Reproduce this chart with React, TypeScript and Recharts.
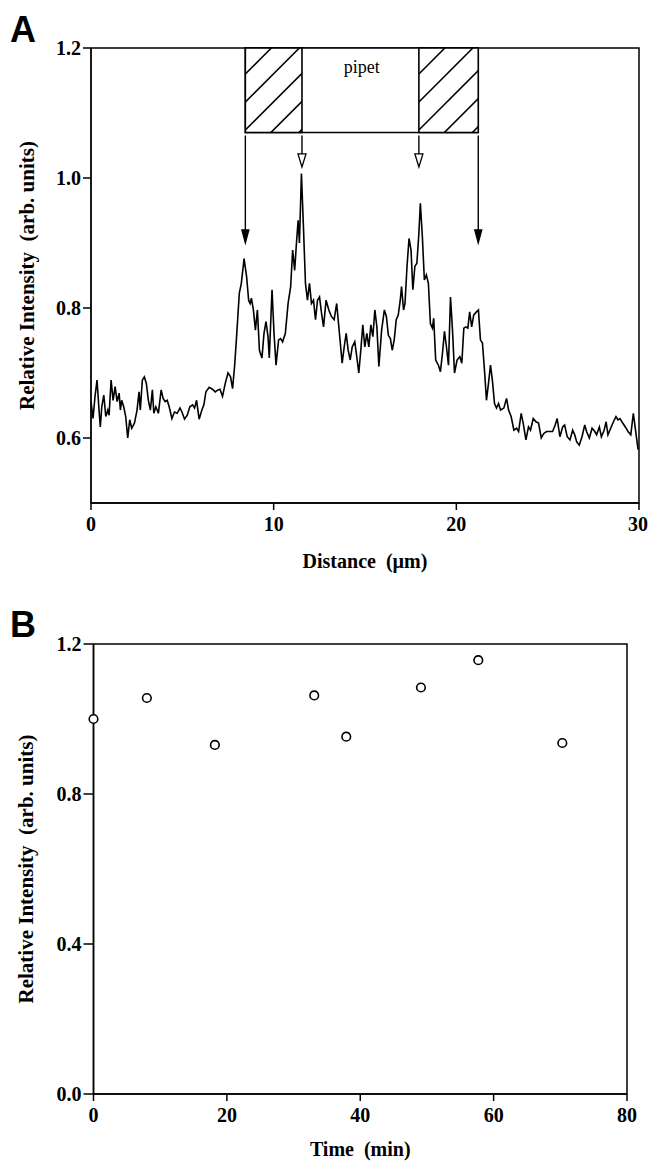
import {
  LineChart,
  Line,
  XAxis,
  YAxis,
  ReferenceArea,
  ReferenceLine,
  ScatterChart,
  Scatter
} from "recharts";

// panel A: line profile along the pipet
const distance = [
  0.00, 0.11, 0.22, 0.33, 0.44, 0.51, 0.59, 0.70, 0.81, 0.92, 0.99, 1.10, 1.21, 1.32, 1.43, 1.54, 1.61, 1.68, 1.79, 1.90,
  2.01, 2.12, 2.23, 2.38, 2.52, 2.63, 2.70, 2.81, 2.92, 3.03, 3.14, 3.25, 3.36, 3.44, 3.55, 3.69, 3.84, 3.95, 4.06, 4.17,
  4.28, 4.43, 4.57, 4.72, 4.87, 4.98, 5.12, 5.27, 5.41, 5.56, 5.67, 5.78, 5.92, 6.07, 6.18, 6.29, 6.47, 6.65, 6.80, 6.95,
  7.06, 7.20, 7.35, 7.50, 7.64, 7.75, 7.86, 7.97, 8.12, 8.23, 8.38, 8.52, 8.63, 8.71, 8.78, 8.89, 9.00, 9.11, 9.22, 9.36,
  9.47, 9.58, 9.69, 9.76, 9.91, 10.02, 10.13, 10.27, 10.38, 10.49, 10.64, 10.79, 10.93, 11.04, 11.15, 11.26, 11.34, 11.41, 11.52, 11.63,
  11.74, 11.85, 11.96, 12.07, 12.18, 12.29, 12.40, 12.51, 12.62, 12.73, 12.87, 13.02, 13.16, 13.31, 13.45, 13.60, 13.75, 13.86, 13.97, 14.08,
  14.19, 14.30, 14.44, 14.55, 14.66, 14.77, 14.88, 14.99, 15.10, 15.21, 15.32, 15.43, 15.54, 15.65, 15.76, 15.91, 16.06, 16.17, 16.28, 16.39,
  16.49, 16.60, 16.71, 16.82, 16.93, 17.00, 17.11, 17.19, 17.30, 17.41, 17.52, 17.62, 17.73, 17.84, 17.95, 18.03, 18.14, 18.25, 18.36, 18.47,
  18.58, 18.69, 18.76, 18.87, 19.02, 19.13, 19.24, 19.35, 19.46, 19.57, 19.68, 19.79, 19.90, 20.04, 20.19, 20.30, 20.41, 20.52, 20.63, 20.73,
  20.84, 20.95, 21.10, 21.21, 21.32, 21.43, 21.54, 21.65, 21.76, 21.87, 21.98, 22.09, 22.20, 22.31, 22.42, 22.60, 22.75, 22.86, 23.00, 23.15,
  23.30, 23.41, 23.55, 23.66, 23.81, 23.95, 24.06, 24.21, 24.36, 24.50, 24.65, 24.79, 24.94, 25.12, 25.27, 25.41, 25.52, 25.67, 25.82, 25.93,
  26.07, 26.22, 26.37, 26.48, 26.59, 26.73, 26.88, 27.03, 27.13, 27.28, 27.43, 27.58, 27.68, 27.83, 27.94, 28.09, 28.20, 28.30, 28.45, 28.60,
  28.74, 28.85, 28.96, 29.11, 29.25, 29.40, 29.55, 29.69, 29.81, 29.88, 29.95
];

const intensity = [
  0.656, 0.630, 0.664, 0.689, 0.643, 0.617, 0.648, 0.666, 0.633, 0.643, 0.635, 0.689, 0.658, 0.679, 0.656, 0.669, 0.643, 0.658, 0.648, 0.633,
  0.600, 0.628, 0.615, 0.623, 0.643, 0.671, 0.643, 0.689, 0.694, 0.684, 0.658, 0.643, 0.674, 0.638, 0.648, 0.638, 0.674, 0.661, 0.656, 0.658,
  0.648, 0.630, 0.640, 0.638, 0.646, 0.640, 0.629, 0.635, 0.648, 0.651, 0.646, 0.658, 0.629, 0.643, 0.651, 0.671, 0.678, 0.675, 0.671, 0.674,
  0.675, 0.664, 0.684, 0.700, 0.694, 0.676, 0.710, 0.756, 0.823, 0.838, 0.876, 0.848, 0.812, 0.807, 0.815, 0.797, 0.766, 0.797, 0.735, 0.723,
  0.761, 0.779, 0.756, 0.723, 0.828, 0.761, 0.712, 0.751, 0.753, 0.748, 0.761, 0.807, 0.833, 0.889, 0.858, 0.905, 0.935, 0.900, 1.007, 0.925,
  0.838, 0.812, 0.838, 0.807, 0.812, 0.782, 0.812, 0.817, 0.792, 0.771, 0.812, 0.797, 0.787, 0.782, 0.807, 0.761, 0.715, 0.740, 0.761, 0.735,
  0.720, 0.740, 0.748, 0.725, 0.700, 0.735, 0.774, 0.740, 0.761, 0.740, 0.774, 0.756, 0.797, 0.771, 0.710, 0.766, 0.797, 0.787, 0.758, 0.753,
  0.735, 0.751, 0.782, 0.789, 0.812, 0.833, 0.797, 0.807, 0.864, 0.907, 0.889, 0.828, 0.864, 0.869, 0.915, 0.961, 0.910, 0.843, 0.851, 0.838,
  0.776, 0.769, 0.784, 0.720, 0.712, 0.702, 0.730, 0.764, 0.740, 0.712, 0.817, 0.766, 0.700, 0.720, 0.725, 0.715, 0.769, 0.771, 0.769, 0.794,
  0.771, 0.789, 0.794, 0.797, 0.751, 0.746, 0.705, 0.658, 0.684, 0.712, 0.687, 0.653, 0.646, 0.653, 0.643, 0.646, 0.661, 0.643, 0.633, 0.612,
  0.615, 0.610, 0.638, 0.623, 0.597, 0.617, 0.612, 0.630, 0.625, 0.623, 0.600, 0.607, 0.610, 0.610, 0.610, 0.620, 0.630, 0.602, 0.617, 0.620,
  0.602, 0.597, 0.612, 0.605, 0.594, 0.589, 0.602, 0.620, 0.610, 0.600, 0.615, 0.610, 0.605, 0.617, 0.602, 0.612, 0.625, 0.605, 0.615, 0.625,
  0.633, 0.628, 0.630, 0.623, 0.617, 0.610, 0.605, 0.638, 0.612, 0.597, 0.582
];

const distTicks = [0, 10, 20, 30];
const intensTicksA = [0.6, 0.8, 1.0, 1.2];

// pipet outline (µm) and arrow tips (intensity units)
const pipetWall = [8.45, 11.55, 17.95, 21.2];
const pipetBottom = 1.07;
const arrowTips = [0.9, 1.017, 1.017, 0.9];
const arrowOpen = [false, true, true, false];

// panel B: intensity over time
const timeMin = [0, 8, 18.2, 33.1, 37.9, 49.1, 57.7, 70.3];
const timeIntensity = [1.0, 1.056, 0.931, 1.063, 0.953, 1.084, 1.157, 0.936];
const timeTicks = [0, 20, 40, 60, 80];
const intensTicksB = [0, 0.4, 0.8, 1.2];

const serif = "'Liberation Serif', 'Times New Roman', serif";
const tickStyle = { fill: "#000", fontSize: 20, fontWeight: "bold", fontFamily: serif };
const titleStyle = { fill: "#000", fontSize: 20, fontWeight: "bold", fontFamily: serif, textAnchor: "middle" as const };

const profile = distance.map((x, i) => ({ x, y: intensity[i] }));
const timeline = timeMin.map((t, i) => ({ t, v: timeIntensity[i] }));

function Arrow(props: any) {
  const { x1, y1, x2, y2, open } = props;
  const head = 13;
  const half = open ? 4 : 3.5;
  return (
    <g>
      <line x1={x1} y1={y1 + 3} x2={x2} y2={y2 - head + 1} stroke="#000" strokeWidth={1.4} />
      <polygon
        points={`${x2 - half},${y2 - head} ${x2 + half},${y2 - head} ${x2},${y2}`}
        fill={open ? "#fff" : "#000"}
        stroke="#000"
        strokeWidth={1.3}
      />
    </g>
  );
}

function Hatched(props: any) {
  const { x, y, width, height } = props;
  const id = `hatch-${Math.round(x)}`;
  const step = 28;
  const lines = [];
  for (let c = 26; c < width + height; c += step) {
    lines.push(<line key={c} x1={x} y1={y + c} x2={x + c} y2={y} stroke="#000" strokeWidth={1.6} />);
  }
  return (
    <g>
      <defs>
        <clipPath id={id}>
          <rect x={x} y={y} width={width} height={height} />
        </clipPath>
      </defs>
      <rect x={x} y={y} width={width} height={height} fill="#fff" />
      <g clipPath={`url(#${id})`}>{lines}</g>
      <rect x={x} y={y} width={width} height={height} fill="none" stroke="#000" strokeWidth={1.6} />
    </g>
  );
}

function PanelLetter({ text, top }: { text: string; top: number }) {
  return (
    <svg width={50} height={50} style={{ position: "absolute", left: 0, top }}>
      <text x={10} y={40} fontFamily="'Liberation Sans', Arial, sans-serif" fontWeight="bold" fontSize={36} fill="#000">
        {text}
      </text>
    </svg>
  );
}

export default function App() {
  return (
    <div style={{ position: "absolute", left: 0, top: 0, width: 648, height: 1162, background: "#fff" }}>
      <PanelLetter text="A" top={2} />
      <div style={{ position: "absolute", left: 0, top: 0 }}>
        <LineChart width={648} height={600} data={profile} margin={{ top: 48, right: 9, bottom: 0, left: 0 }}>
          <XAxis
            dataKey="x"
            type="number"
            domain={[0, 30]}
            ticks={distTicks}
            height={97}
            tickSize={7}
            tickMargin={7}
            stroke="#000"
            axisLine={{ stroke: "#000", strokeWidth: 1.5 }}
            tickLine={{ stroke: "#000", strokeWidth: 1.5 }}
            tick={tickStyle}
            label={{ value: "Distance\u00a0 (\u00b5m)", position: "insideBottom", offset: 32, style: titleStyle }}
          />
          <YAxis
            type="number"
            domain={[0.5, 1.2]}
            ticks={intensTicksA}
            width={91}
            tickSize={8}
            tickMargin={2}
            tickFormatter={(v: number) => v.toFixed(1)}
            axisLine={{ stroke: "#000", strokeWidth: 1.2 }}
            tickLine={{ stroke: "#000", strokeWidth: 1.5 }}
            tick={tickStyle}
            label={{
              value: "Relative Intensity\u00a0 (arb. units)",
              angle: -90,
              position: "insideLeft",
              offset: 27,
              style: { ...titleStyle, fontSize: 21 }
            }}
          />
          <ReferenceArea x1={0} x2={30} y1={0.5} y2={1.2} fill="none" stroke="#000" strokeWidth={1.5} />
          <ReferenceArea
            x1={pipetWall[0]}
            x2={pipetWall[3]}
            y1={pipetBottom}
            y2={1.2}
            fill="#fff"
            fillOpacity={1}
            stroke="#000"
            strokeWidth={1.6}
            label={{ value: "pipet", position: "insideTop", offset: 12, style: { fill: "#000", fontSize: 18, fontFamily: serif } }}
          />
          <ReferenceArea x1={pipetWall[0]} x2={pipetWall[1]} y1={pipetBottom} y2={1.2} shape={<Hatched />} />
          <ReferenceArea x1={pipetWall[2]} x2={pipetWall[3]} y1={pipetBottom} y2={1.2} shape={<Hatched />} />
          {pipetWall.map((w, i) => (
            <ReferenceLine
              key={w}
              segment={[{ x: w, y: pipetBottom }, { x: w, y: arrowTips[i] }]}
              shape={(p: any) => <Arrow {...p} open={arrowOpen[i]} />}
            />
          ))}
          <Line
            type="linear"
            dataKey="y"
            stroke="#000"
            strokeWidth={1.6}
            dot={false}
            isAnimationActive={false}
          />
        </LineChart>
      </div>

      <PanelLetter text="B" top={597} />
      <div style={{ position: "absolute", left: 0, top: 600 }}>
        <ScatterChart width={648} height={562} margin={{ top: 44, right: 21, bottom: 0, left: 0 }}>
          <XAxis
            dataKey="t"
            type="number"
            domain={[0, 80]}
            ticks={timeTicks}
            height={68}
            tickSize={7}
            tickMargin={7}
            axisLine={{ stroke: "#000", strokeWidth: 1.5 }}
            tickLine={{ stroke: "#000", strokeWidth: 1.5 }}
            tick={tickStyle}
            label={{ value: "Time\u00a0 (min)", position: "insideBottom", offset: 6, style: titleStyle }}
          />
          <YAxis
            dataKey="v"
            type="number"
            domain={[0, 1.2]}
            ticks={intensTicksB}
            width={93.5}
            tickSize={10}
            tickMargin={2}
            tickFormatter={(v: number) => v.toFixed(1)}
            axisLine={{ stroke: "#000", strokeWidth: 1.5 }}
            tickLine={{ stroke: "#000", strokeWidth: 1.5 }}
            tick={tickStyle}
            label={{
              value: "Relative Intensity\u00a0 (arb. units)",
              angle: -90,
              position: "insideLeft",
              offset: 26,
              style: { ...titleStyle, fontSize: 21 }
            }}
          />
          <ReferenceArea x1={0} x2={80} y1={0} y2={1.2} fill="none" stroke="#000" strokeWidth={1.5} />
          <Scatter
            data={timeline}
            isAnimationActive={false}
            shape={(p: any) => <circle cx={p.cx} cy={p.cy} r={4.3} fill="#fff" stroke="#000" strokeWidth={1.6} />}
          />
        </ScatterChart>
      </div>
    </div>
  );
}
